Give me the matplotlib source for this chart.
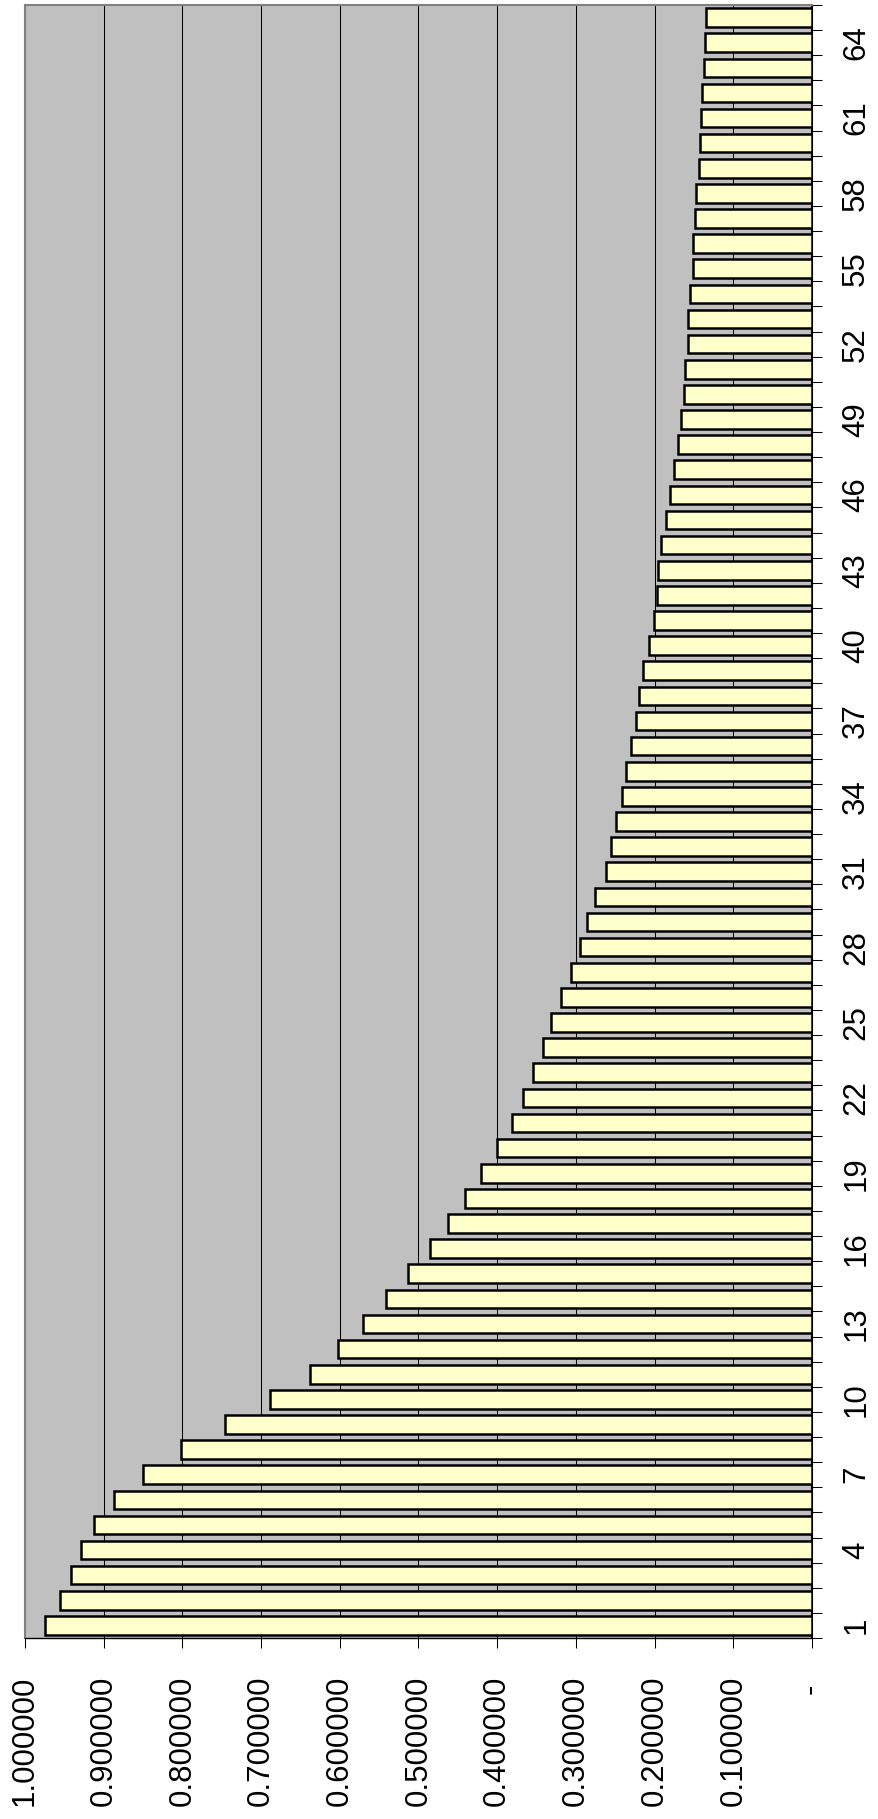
import numpy as np
import matplotlib.pyplot as plt
from matplotlib.ticker import FuncFormatter

plt.rcParams['font.family'] = ['Liberation Sans', 'DejaVu Sans']

# categories 1..65, values
categories = list(range(1, 66))
values = [
    0.9746, 0.9555, 0.9420, 0.9293, 0.9123, 0.8873, 0.8505, 0.8013, 0.7459, 0.6883,
    0.6379, 0.6023, 0.5705, 0.5409, 0.5129, 0.4854, 0.4625, 0.4409, 0.4202, 0.4003,
    0.3816, 0.3672, 0.3545, 0.3422, 0.3316, 0.3193, 0.3066, 0.2952, 0.2855, 0.2757,
    0.2622, 0.2550, 0.2486, 0.2418, 0.2359, 0.2304, 0.2240, 0.2194, 0.2143, 0.2075,
    0.2008, 0.1973, 0.1957, 0.1914, 0.1859, 0.1804, 0.1749, 0.1698, 0.1660, 0.1631,
    0.1614, 0.1580, 0.1576, 0.1554, 0.1516, 0.1508, 0.1491, 0.1474, 0.1440, 0.1427,
    0.1415, 0.1398, 0.1377, 0.1364, 0.1347,
]
value_ticks = [0.0, 0.1, 0.2, 0.3, 0.4, 0.5, 0.6, 0.7, 0.8, 0.9, 1.0]
category_labels = categories[::3]


def fmt_value(v, pos):
    if abs(v) < 1e-9:
        return '- '
    return '%.6f' % v


W, H = 879, 1819
fig = plt.figure(figsize=(W / 100, H / 100), dpi=100)
ax = fig.add_axes([25 / W, 1 - 1638 / H, (812 - 25) / W, (1638 - 5) / H])
ax.set_facecolor('#c0c0c0')

ax.barh(categories, values, height=0.74, color='#ffffcc',
        edgecolor='black', linewidth=1.8, zorder=3)

ax.set_xlim(1.0, 0.0)
ax.set_ylim(0.5, 65.5)

# value axis (bottom)
ax.set_xticks(value_ticks)
ax.xaxis.set_major_formatter(FuncFormatter(fmt_value))
ax.tick_params(axis='x', direction='out', length=7.2, width=0.75,
               pad=20, labelsize=22.5, labelrotation=90, colors='black')
ax.grid(axis='x', color='black', linewidth=0.75, zorder=1)
ax.set_axisbelow(True)

# category axis (right)
ax.yaxis.tick_right()
ax.set_yticks(category_labels)
ax.set_yticks(np.arange(0.5, 66, 1), minor=True)
ax.tick_params(axis='y', which='major', length=0, pad=21,
               labelsize=22.5, labelrotation=90)
ax.tick_params(axis='y', which='minor', direction='out', length=7.2, width=0.75)
for lbl in ax.get_yticklabels():
    lbl.set_va('center')

ax.spines['left'].set_color('#808080')
ax.spines['left'].set_linewidth(1.5)
ax.spines['top'].set_color('#808080')
ax.spines['top'].set_linewidth(1.5)
ax.spines['right'].set_color('black')
ax.spines['right'].set_linewidth(1.5)
ax.spines['bottom'].set_color('black')
ax.spines['bottom'].set_linewidth(1.0)

fig.savefig('out.png', dpi=100)
plt.close(fig)
